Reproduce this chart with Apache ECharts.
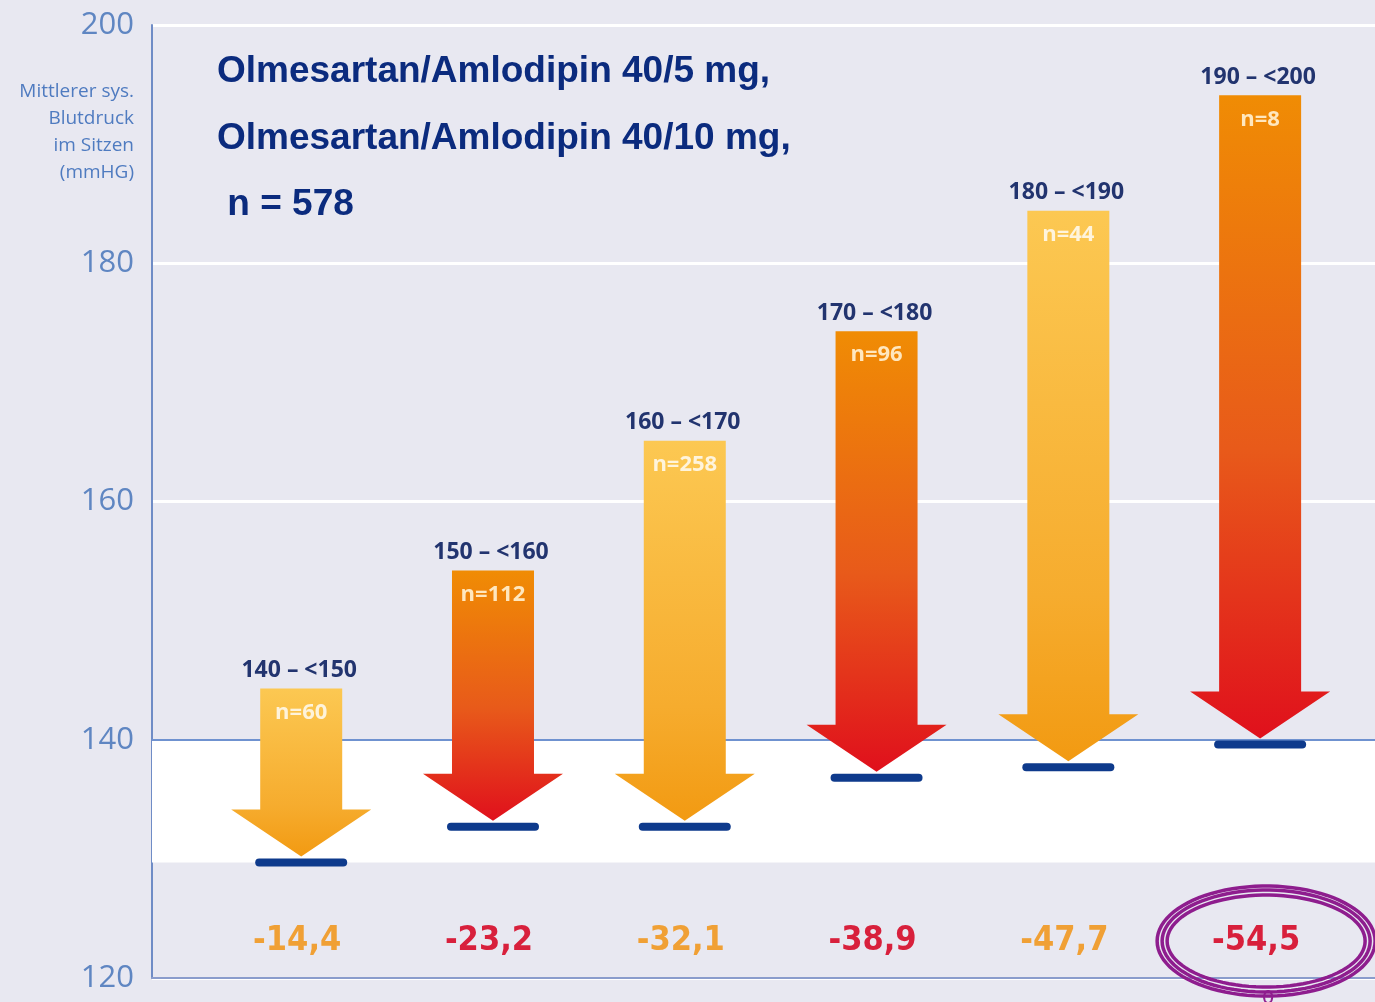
<!DOCTYPE html>
<html>
<head>
<meta charset="utf-8">
<script src="https://cdn.jsdelivr.net/npm/echarts@6/dist/echarts.min.js"></script>
<style>
  html, body { margin: 0; padding: 0; background: #e8e8f1; }
  #chart { width: 1375px; height: 1002px; }
</style>
</head>
<body>
<div id="chart"></div>
<script>
  // Blutdruckklassen (Ausgangswert)
  const ranges = ['140 – <150', '150 – <160', '160 – <170', '170 – <180', '180 – <190', '190 – <200']
  const nCounts = [60, 112, 258, 96, 44, 8]
  // Mittlerer sys. Blutdruck vorher / nachher (mmHg)
  const startBP = [144.3, 154.2, 165.1, 174.3, 184.4, 194.1]
  const endBP = [129.7, 132.7, 132.7, 136.8, 137.7, 139.6]
  // Senkung (mmHg)
  const drops = ['-14,4', '-23,2', '-32,1', '-38,9', '-47,7', '-54,5']
  const yTicks = [120, 140, 160, 180, 200]
  const highlight = 5

  const chart = echarts.init(document.getElementById('chart'))

  const warmFill = new echarts.graphic.LinearGradient(0, 0, 0, 1, [
    { offset: 0, color: '#fcc852' },
    { offset: 0.7, color: '#f6ac2e' },
    { offset: 1, color: '#f29a12' }
  ])
  const hotFill = new echarts.graphic.LinearGradient(0, 0, 0, 1, [
    { offset: 0, color: '#f08c04' },
    { offset: 0.55, color: '#e85a1a' },
    { offset: 1, color: '#e0101c' }
  ])

  function ellipsePoints (cx, cy, rx, ry) {
    const pts = []
    for (let k = 0; k < 90; k++) {
      const a = k / 90 * Math.PI * 2
      pts.push([cx + rx * Math.cos(a), cy + ry * Math.sin(a)])
    }
    return pts
  }

  function renderArrow (params, api) {
    const idx = params.dataIndex
    const x = api.value(0)
    const top = api.coord([x, api.value(1)])
    const bar = api.coord([x, api.value(2)])
    const lab = api.coord([x, 123.1])
    const cx = top[0]
    const yTop = top[1]
    const yBar = bar[1]
    const yTip = yBar - 6
    const yHead = yTip - 47
    const hot = idx % 2 === 1
    const children = [
      {
        type: 'polygon',
        shape: {
          points: [
            [cx - 41, yTop], [cx + 41, yTop], [cx + 41, yHead], [cx + 70, yHead],
            [cx, yTip], [cx - 70, yHead], [cx - 41, yHead]
          ]
        },
        style: { fill: hot ? hotFill : warmFill }
      },
      {
        type: 'rect',
        shape: { x: cx - 46, y: yBar - 4, width: 92, height: 8, r: 4 },
        style: { fill: '#0e3a8c' }
      },
      {
        type: 'text',
        x: cx - 2,
        y: yTop - 18,
        style: {
          text: ranges[idx],
          fill: '#22346f',
          font: 'bold 23px "Open Sans", sans-serif',
          align: 'center',
          verticalAlign: 'middle'
        }
      },
      {
        type: 'text',
        x: cx,
        y: yTop + 24,
        style: {
          text: 'n=' + nCounts[idx],
          fill: hot ? 'rgba(255,236,200,0.95)' : 'rgba(255,255,255,0.8)',
          font: 'bold 22px "Open Sans", sans-serif',
          align: 'center',
          verticalAlign: 'middle'
        }
      },
      {
        type: 'text',
        x: cx - 4,
        y: lab[1],
        style: {
          text: drops[idx],
          fill: hot ? '#d8203c' : '#f0a035',
          font: 'bold 34px "Liberation Sans Narrow", "DejaVu Sans Condensed", sans-serif',
          align: 'center',
          verticalAlign: 'middle'
        }
      }
    ]
    if (idx === highlight) {
      const ecx = cx + 6
      const ecy = lab[1]
      ;[[99, 46], [104, 51], [109, 55]].forEach(function (r) {
        children.push({
          type: 'polygon',
          shape: { points: ellipsePoints(ecx, ecy, r[0], r[1]) },
          style: { fill: null, stroke: '#8e1d8e', lineWidth: 3.5 }
        })
      })
      children.push({
        type: 'polygon',
        shape: { points: ellipsePoints(ecx + 2, ecy + 56, 4, 6) },
        style: { fill: null, stroke: '#8e1d8e', lineWidth: 2 }
      })
    }
    return { type: 'group', children: children }
  }

  chart.setOption({
    backgroundColor: '#e8e8f1',
    animation: false,
    grid: { left: 152, right: 0, top: 25, bottom: 24 },
    xAxis: {
      type: 'value',
      min: 0.222,
      max: 6.599,
      axisLine: { show: true, lineStyle: { color: '#8a9ccc', width: 2 } },
      axisTick: { show: false },
      axisLabel: { show: false },
      splitLine: { show: false }
    },
    yAxis: {
      type: 'value',
      min: yTicks[0],
      max: yTicks[yTicks.length - 1],
      interval: 20,
      axisLine: { show: true, lineStyle: { color: '#6f8cc6', width: 2 } },
      axisTick: { show: false },
      axisLabel: {
        color: '#5f86c2',
        fontSize: 31,
        fontFamily: 'Open Sans, sans-serif',
        margin: 18,
        padding: [4, 0, 0, 0]
      },
      splitLine: { show: true, lineStyle: { color: '#ffffff', width: 3 } }
    },
    graphic: [
      {
        type: 'text',
        x: 134,
        y: 78,
        style: {
          text: 'Mittlerer sys.\nBlutdruck\nim Sitzen\n(mmHG)',
          fill: '#4f7bc0',
          font: '19px "Open Sans", sans-serif',
          lineHeight: 27,
          align: 'right',
          verticalAlign: 'top'
        }
      },
      {
        type: 'text',
        x: 217,
        y: 39,
        style: {
          text: 'Olmesartan/Amlodipin 40/5 mg,\nOlmesartan/Amlodipin 40/10 mg,\n n = 578',
          fill: '#0b2b7e',
          font: 'bold 37px "Liberation Sans", Arial, sans-serif',
          lineHeight: 66.5,
          align: 'left',
          verticalAlign: 'top'
        }
      }
    ],
    series: [
      {
        type: 'custom',
        z: 1,
        silent: true,
        data: [],
        renderItem: function () { return null },
        markArea: {
          silent: true,
          itemStyle: { color: '#ffffff' },
          data: [[{ yAxis: 129.7 }, { yAxis: 140 }]]
        },
        markLine: {
          silent: true,
          symbol: 'none',
          label: { show: false },
          lineStyle: { color: '#6f92d0', width: 2, type: 'solid' },
          data: [{ yAxis: 140 }]
        }
      },
      {
        type: 'custom',
        z: 5,
        silent: true,
        data: startBP.map(function (s, i) { return [i + 1, s, endBP[i]] }),
        renderItem: renderArrow
      }
    ]
  })
</script>
</body>
</html>
